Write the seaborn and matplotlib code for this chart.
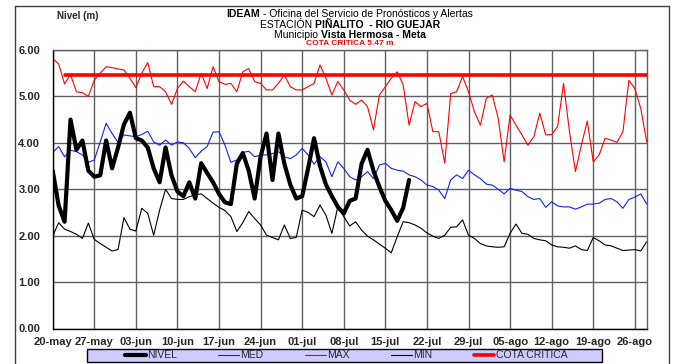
import pandas as pd
import matplotlib
matplotlib.use("Agg")
import matplotlib.pyplot as plt
import seaborn as sns
from matplotlib.lines import Line2D
from matplotlib.patches import Rectangle

# ---------------------------------------------------------------
# Datos (nivel diario, m)
# ---------------------------------------------------------------
fecha_inicio = "2014-05-20"
n_dias = 101

nivel = [3.40, 2.65, 2.30, 4.50, 3.85, 4.05, 3.40, 3.27, 3.30, 4.05,
         3.45, 3.90, 4.40, 4.65, 4.10, 4.05, 3.90, 3.45, 3.15, 3.90,
         3.30, 2.95, 2.85, 3.15, 2.80, 3.56, 3.35, 3.15, 2.90, 2.72,
         2.68, 3.55, 3.78, 3.40, 2.80, 3.70, 4.20, 3.20, 4.20, 3.55,
         3.10, 2.80, 2.85, 3.45, 4.10, 3.50, 3.10, 2.85, 2.62, 2.48,
         2.75, 2.80, 3.55, 3.85, 3.40, 3.05, 2.75, 2.55, 2.32, 2.60,
         3.20]

med = [3.79, 3.92, 3.70, 3.84, 3.81, 3.74, 3.58, 3.63, 4.02, 4.42,
       4.20, 4.01, 4.17, 4.15, 4.13, 4.18, 4.25, 4.02, 3.95, 4.06,
       3.95, 4.02, 4.00, 3.88, 3.68, 3.82, 3.92, 4.23, 4.24, 3.95,
       3.58, 3.63, 3.79, 3.82, 3.70, 3.74, 3.74, 3.77, 3.81, 3.70,
       3.66, 3.74, 3.88, 3.74, 3.54, 3.70, 3.59, 3.27, 3.59, 3.45,
       3.27, 3.20, 3.27, 3.38, 3.23, 3.52, 3.56, 3.45, 3.41, 3.39,
       3.31, 3.27, 3.20, 3.09, 3.06, 2.98, 2.80, 3.20, 3.31, 3.23,
       3.41, 3.31, 3.23, 3.11, 3.09, 3.00, 2.90, 3.02, 2.98, 2.95,
       2.84, 2.78, 2.80, 2.61, 2.73, 2.64, 2.62, 2.62, 2.57, 2.62,
       2.68, 2.68, 2.70, 2.78, 2.80, 2.73, 2.59, 2.78, 2.83, 2.90,
       2.68]

maximo = [5.82, 5.70, 5.27, 5.47, 5.10, 5.08, 5.00, 5.35, 5.50, 5.64,
          5.62, 5.59, 5.57, 5.39, 5.19, 5.50, 5.73, 5.21, 5.21, 5.10,
          4.83, 5.17, 5.33, 5.21, 5.10, 5.50, 5.17, 5.64, 5.32, 5.26,
          5.28, 5.10, 5.53, 5.60, 5.32, 5.28, 5.14, 5.14, 5.28, 5.46,
          5.21, 5.14, 5.14, 5.21, 5.28, 5.68, 5.39, 5.03, 5.32, 5.14,
          4.92, 4.83, 4.92, 4.78, 4.28, 5.03, 5.21, 5.39, 5.53, 5.25,
          4.38, 4.89, 4.78, 4.85, 4.24, 4.24, 3.56, 5.06, 5.10, 5.43,
          5.10, 4.67, 4.38, 4.96, 5.03, 4.53, 3.59, 4.60, 4.38, 4.17,
          3.95, 4.13, 4.64, 4.17, 4.18, 4.35, 5.28, 4.24, 3.38, 3.95,
          4.47, 3.59, 3.74, 4.10, 4.06, 4.01, 4.24, 5.35, 5.17, 4.74,
          4.02]

minimo = [1.99, 2.28, 2.14, 2.09, 2.03, 1.94, 2.27, 1.92, 1.83, 1.75,
          1.67, 1.70, 2.39, 2.14, 2.10, 2.59, 2.48, 2.01, 2.55, 3.00,
          2.80, 2.78, 2.78, 2.84, 2.88, 2.90, 2.80, 2.70, 2.61, 2.54,
          2.41, 2.09, 2.28, 2.52, 2.37, 2.23, 2.01, 1.96, 1.91, 2.23,
          1.94, 1.96, 2.55, 2.50, 2.41, 2.66, 2.44, 2.05, 2.62, 2.41,
          2.21, 2.30, 2.12, 1.99, 1.91, 1.82, 1.73, 1.63, 1.98, 2.30,
          2.28, 2.23, 2.16, 2.06, 1.99, 1.94, 2.01, 2.18, 2.19, 2.34,
          2.01, 1.94, 1.83, 1.78, 1.76, 1.75, 1.76, 2.05, 2.25, 2.05,
          2.03, 1.94, 1.91, 1.89, 1.80, 1.76, 1.75, 1.73, 1.78, 1.70,
          1.68, 1.96, 1.89, 1.80, 1.78, 1.73, 1.68, 1.69, 1.70, 1.67,
          1.87]

cota_critica = 5.47
cota_desde_dia = 2

etiquetas_x = ["20-may", "27-may", "03-jun", "10-jun", "17-jun", "24-jun",
               "01-jul", "08-jul", "15-jul", "22-jul", "29-jul", "05-ago",
               "12-ago", "19-ago", "26-ago"]
valores_y = [0, 1, 2, 3, 4, 5, 6]

# ---------------------------------------------------------------
# DataFrame
# ---------------------------------------------------------------
fechas = pd.date_range(fecha_inicio, periods=n_dias, freq="D")
df = pd.DataFrame({"fecha": fechas, "MED": med, "MAX": maximo, "MIN": minimo})
df["NIVEL"] = pd.Series(nivel + [None] * (n_dias - len(nivel)), dtype=float)
df["COTA"] = [None] * cota_desde_dia + [cota_critica] * (n_dias - cota_desde_dia)
df["COTA"] = df["COTA"].astype(float)

# ---------------------------------------------------------------
# Figura
# ---------------------------------------------------------------
sns.set_style("white")
plt.rcParams["font.family"] = ["Liberation Sans", "DejaVu Sans"]

W, H = 676, 364
fig = plt.figure(figsize=(W / 100, H / 100), dpi=100)
ax = fig.add_axes([52.7 / W, (H - 328.5) / H, 594 / W, 278.5 / H])

grid_color = "#606060"
ax.set_axisbelow(True)
ax.grid(True, color=grid_color, linewidth=1.0)

linea = dict(ax=ax, solid_joinstyle="round", solid_capstyle="round")
sns.lineplot(data=df, x="fecha", y="MIN", color="black", linewidth=0.8, **linea)
sns.lineplot(data=df, x="fecha", y="MAX", color="#FF0000", linewidth=0.8, **linea)
sns.lineplot(data=df, x="fecha", y="MED", color="#1020FF", linewidth=0.8, **linea)
sns.lineplot(data=df, x="fecha", y="COTA", color="#FF0000", linewidth=2.6, ax=ax)
sns.lineplot(data=df, x="fecha", y="NIVEL", color="black", linewidth=3.0, **linea)

ax.set_xlim(fechas[0], fechas[-1])
ax.set_ylim(0, 6)
ax.set_xticks(fechas[::7][:len(etiquetas_x)])
ax.set_xticklabels(etiquetas_x, fontsize=8, fontweight="bold")
ax.set_yticks(valores_y)
ax.set_yticklabels([f"{v:.2f}" for v in valores_y], fontsize=8, fontweight="bold")
ax.tick_params(axis="y", length=3, pad=6, color="black")
ax.tick_params(axis="x", length=3, pad=3, color="black")
ax.set_xlabel("")
ax.set_ylabel("")

for lado in ["left", "bottom"]:
    ax.spines[lado].set_color("black")
    ax.spines[lado].set_linewidth(1.0)
for lado in ["top", "right"]:
    ax.spines[lado].set_color(grid_color)
    ax.spines[lado].set_linewidth(1.0)

# ---------------------------------------------------------------
# Marco exterior
# ---------------------------------------------------------------
for xs, ys in [([15, 15], [6, 364]), ([15, 669], [6, 6]), ([669, 669], [6, 364])]:
    fig.add_artist(Line2D([x / W for x in xs], [1 - y / H for y in ys],
                          transform=fig.transFigure, color="#404040", linewidth=1.0))

# ---------------------------------------------------------------
# Textos de encabezado
# ---------------------------------------------------------------
fig.text(57 / W, 1 - 16 / H, "Nivel (m)", fontsize=7, fontweight="bold", va="center")

renderer = fig.canvas.get_renderer()


def linea_mixta(y_px, partes, size, color="black", cx_px=350):
    textos = [fig.text(0, 1 - y_px / H, s, fontsize=size, fontweight=w,
                       color=color, va="center") for s, w in partes]
    anchos = [t.get_window_extent(renderer).width for t in textos]
    x0 = cx_px - sum(anchos) / 2
    for t, a in zip(textos, anchos):
        t.set_x(x0 / W)
        x0 += a


linea_mixta(14, [("IDEAM", "bold"), (" - Oficina del Servicio de Pronósticos y Alertas", "normal")], 7.5)
linea_mixta(24.5, [("ESTACIÓN ", "normal"), ("PIÑALITO  - RIO GUEJAR", "bold")], 7.5)
linea_mixta(34.5, [("Municipio ", "normal"), ("Vista Hermosa - Meta", "bold")], 7.5)
linea_mixta(43.5, [("COTA CRÍTICA 5.47 m", "bold")], 6, color="#FF0000")

# ---------------------------------------------------------------
# Leyenda
# ---------------------------------------------------------------
fig.add_artist(Rectangle((87 / W, (H - 362) / H), 515 / W, 13 / H,
                         transform=fig.transFigure, facecolor="#CCCCFF",
                         edgecolor="black", linewidth=1.0))
handles = [Line2D([], [], color="black", linewidth=3.0),
           Line2D([], [], color="#1020FF", linewidth=0.8),
           Line2D([], [], color="#FF0000", linewidth=0.8),
           Line2D([], [], color="black", linewidth=0.8),
           Line2D([], [], color="#FF0000", linewidth=2.6)]
labels = ["NIVEL", "MED", "MAX", "MIN", "COTA CRITICA"]
fig.legend(handles, labels, loc="center", bbox_to_anchor=(346 / W, (H - 355.5) / H),
           ncol=5, frameon=False, fontsize=7.5, handlelength=2.0,
           handletextpad=0.1, columnspacing=4.0, borderpad=0, borderaxespad=0)

fig.savefig("out.png", dpi=100)
